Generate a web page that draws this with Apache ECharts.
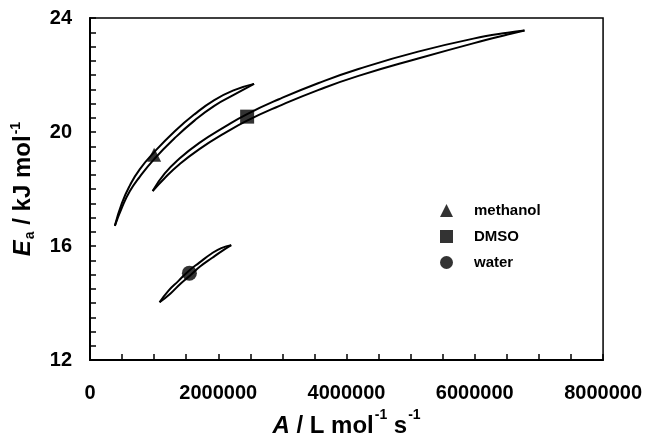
<!DOCTYPE html>
<html>
<head>
<meta charset="utf-8">
<script src="https://cdn.jsdelivr.net/npm/echarts@6/dist/echarts.min.js"></script>
<style>
html,body{margin:0;padding:0;background:#fff;overflow:hidden;}
#chart{width:645px;height:443px;}
</style>
</head>
<body>
<div id="chart"></div>
<script>
// Confidence-region outlines (A in L mol^-1 s^-1, Ea in kJ mol^-1)
const methanolUpper = [[387600,16.71],[496100,17.50],[620200,18.12],[775200,18.69],[1007800,19.31],[1317800,20.02],[1627900,20.62],[1938000,21.12],[2248000,21.47],[2558000,21.69]];
const methanolLower = [[387600,16.71],[496100,17.34],[620200,17.92],[775200,18.43],[1007800,19.07],[1317800,19.78],[1627900,20.40],[1938000,20.92],[2248000,21.31],[2558000,21.69]];
const dmsoUpper = [[977000,17.93],[1162800,18.54],[1395400,19.07],[1705400,19.62],[2093000,20.17],[2449600,20.63],[2945800,21.15],[3565900,21.72],[4186100,22.21],[5116300,22.82],[6155100,23.36],[6511700,23.48],[6775200,23.56]];
const dmsoLower = [[977000,17.93],[1162800,18.38],[1395400,18.87],[1705400,19.40],[2093000,19.95],[2449600,20.40],[2945800,20.91],[3565900,21.48],[4186100,21.97],[5116300,22.58],[6155100,23.22],[6511700,23.42],[6775200,23.56]];
const waterUpper = [[1085000,14.03],[1225000,14.44],[1380000,14.78],[1535000,15.12],[1705000,15.42],[1891000,15.73],[2047000,15.93],[2202000,16.03]];
const waterLower = [[1085000,14.03],[1256000,14.34],[1411000,14.68],[1566000,14.98],[1721000,15.29],[1907000,15.59],[2062000,15.83],[2202000,16.03]];
// Best-fit points
const solvents = ['methanol','DMSO','water'];
const bestA = [1000000, 2450000, 1550000];
const bestEa = [19.2, 20.54, 15.05];
const symbols = ['triangle','rect','circle'];
const xTicks = [0, 2000000, 4000000, 6000000, 8000000];
const yTicks = [12, 16, 20, 24];

const FF = '"Liberation Sans", Arial, Helvetica, sans-serif';
const chart = echarts.init(document.getElementById('chart'), null, {renderer:'canvas', width:645, height:443});

function lineSeries(name, data){
  return {name:name, type:'line', data:data, smooth:0.5, symbol:'none', silent:true,
    lineStyle:{color:'#000', width:2}, z:2};
}
const series = [
  lineSeries('mU', methanolUpper), lineSeries('mL', methanolLower),
  lineSeries('dU', dmsoUpper), lineSeries('dL', dmsoLower),
  lineSeries('wU', waterUpper), lineSeries('wL', waterLower)
];
solvents.forEach(function(s,i){
  series.push({name:s, type:'scatter', symbol:symbols[i], symbolSize: i===2?15:14,
    data:[[bestA[i], bestEa[i]]], itemStyle:{color:'#000'}, z:5});
});

const bold = {fontFamily:FF, fontWeight:'bold', color:'#000'};
chart.setOption({
  animation:false,
  backgroundColor:'#fff',
  grid:{left:90, right:40, top:18, bottom:71, show:true, borderColor:'#000', borderWidth:1.5, backgroundColor:'transparent'},
  legend:{
    data:solvents, orient:'vertical', left:435, top:198, itemGap:11, itemWidth:13, itemHeight:13,
    textStyle:Object.assign({fontSize:15, padding:[0,0,0,16]}, bold),
    selectedMode:false
  },
  xAxis:{
    type:'value', min:xTicks[0], max:xTicks[xTicks.length-1], interval:2000000,
    axisLine:{show:true, lineStyle:{color:'#000', width:2}},
    axisTick:{show:true, inside:true, length:6, lineStyle:{color:'#000', width:1.5}},
    minorTick:{show:true, splitNumber:4, length:6, lineStyle:{color:'#000', width:1.5}},
    splitLine:{show:false},
    axisLabel:Object.assign({fontSize:20, margin:23, formatter:function(v){return String(v);}}, bold),
    name:'{i|A}{n| / L mol}{sup|-1}{n| s}{sup|-1}',
    nameLocation:'middle', nameGap:45,
    nameTextStyle:{rich:{
      i:Object.assign({fontSize:24, fontStyle:'italic', lineHeight:30, verticalAlign:'bottom'}, bold),
      n:Object.assign({fontSize:24, lineHeight:30, verticalAlign:'bottom'}, bold),
      sup:Object.assign({fontSize:14, lineHeight:30, verticalAlign:'top', padding:[0,0,0,1]}, bold)
    }}
  },
  yAxis:{
    type:'value', min:yTicks[0], max:yTicks[yTicks.length-1], interval:4,
    axisLine:{show:true, lineStyle:{color:'#000', width:2}},
    axisTick:{show:true, inside:true, length:6, lineStyle:{color:'#000', width:1.5}},
    minorTick:{show:true, splitNumber:8, length:6, lineStyle:{color:'#000', width:1.5}},
    splitLine:{show:false},
    axisLabel:Object.assign({fontSize:20, margin:18}, bold),
    name:'{i|E}{sub|a}{n| / kJ mol}{sup|-1}',
    nameLocation:'middle', nameGap:46, nameRotate:90,
    nameTextStyle:{rich:{
      i:Object.assign({fontSize:24, fontStyle:'italic', lineHeight:30, verticalAlign:'middle'}, bold),
      sub:Object.assign({fontSize:14, lineHeight:30, verticalAlign:'bottom', padding:[0,0,2,1]}, bold),
      n:Object.assign({fontSize:24, lineHeight:30, verticalAlign:'middle'}, bold),
      sup:Object.assign({fontSize:14, lineHeight:30, verticalAlign:'top', padding:[0,0,0,1]}, bold)
    }}
  },
  series:series
});
</script>
</body>
</html>
